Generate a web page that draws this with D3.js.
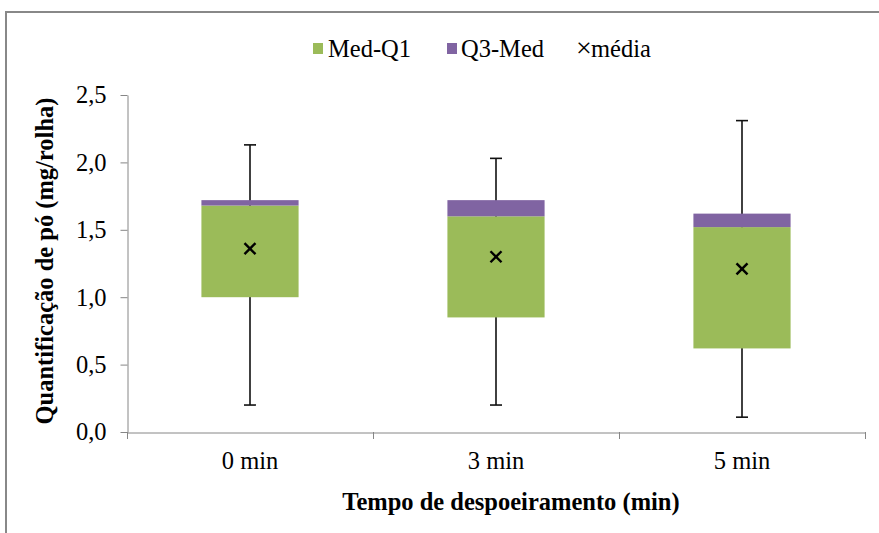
<!DOCTYPE html>
<html><head><meta charset="utf-8">
<script src="https://cdn.jsdelivr.net/npm/d3@7/dist/d3.min.js"></script>
<style>
html,body{margin:0;padding:0;background:#fff;}
svg{display:block;}
</style></head>
<body>
<script>
const categories = ["0 min", "3 min", "5 min"];
const minVals  = [0.20, 0.20, 0.11];
const q1Vals   = [1.00, 0.85, 0.62];
const medVals  = [1.68, 1.60, 1.52];
const q3Vals   = [1.72, 1.72, 1.62];
const maxVals  = [2.13, 2.03, 2.31];
const meanVals = [1.36, 1.30, 1.21];
const yTicks = [0, 0.5, 1.0, 1.5, 2.0, 2.5];
const legendLabels = ["Med-Q1", "Q3-Med", "média"];
const yTitle = "Quantificação de pó (mg/rolha)";
const xTitle = "Tempo de despoeiramento (min)";

const W = 879, H = 533;
const FONT = "'Liberation Serif', 'Times New Roman', serif";
const FS = "24.5px";
const green = "#9BBB59", purple = "#8064A2", axisCol = "#868686";
const svg = d3.select("body").append("svg").attr("width", W).attr("height", H)
  .style("font-family", FONT);

// outer border
svg.append("rect").attr("x", 6).attr("y", 12).attr("width", W + 20).attr("height", H + 20)
  .attr("fill", "none").attr("stroke", "#888").attr("stroke-width", 2);

const x = d3.scaleBand().domain(categories).range([127, 865]).padding(0);
const y = d3.scaleLinear().domain([0, 2.5]).range([432, 95]);
const bw = x.bandwidth() * 0.395;
const fmt = d => d3.format(".1f")(d).replace(".", ",");

// y axis
const ya = svg.append("g").attr("transform", "translate(127.5,0)")
  .call(d3.axisLeft(y).tickValues(yTicks).tickFormat(fmt).tickSize(7).tickSizeOuter(0).tickPadding(14));
ya.attr("font-family", null).attr("font-size", null);
ya.select(".domain").attr("stroke", axisCol);
ya.selectAll(".tick line").attr("stroke", axisCol);
ya.selectAll(".tick text").style("font-family", FONT).style("font-size", FS).attr("fill", "#000");

// x axis
const xa = svg.append("g").attr("transform", "translate(0,432.5)")
  .call(d3.axisBottom(x).tickSize(0).tickSizeOuter(0).tickPadding(19));
xa.attr("font-family", null).attr("font-size", null);
xa.select(".domain").attr("stroke", axisCol);
xa.selectAll(".tick text").style("font-family", FONT).style("font-size", FS).attr("fill", "#000");
const bounds = categories.map(c => x(c)).concat([x(categories[categories.length - 1]) + x.bandwidth()]);
svg.append("g").selectAll("line").data(bounds).join("line")
  .attr("x1", d => Math.round(d) + 0.5).attr("x2", d => Math.round(d) + 0.5)
  .attr("y1", 432).attr("y2", 439).attr("stroke", axisCol);

const idx = categories.map((c, i) => i);
const cx = i => x(categories[i]) + x.bandwidth() / 2;

// whiskers
const wg = svg.append("g").attr("stroke", "#111").attr("stroke-width", 1.6);
wg.selectAll(".vw").data(idx).join("line")
  .attr("x1", cx).attr("x2", cx).attr("y1", i => y(maxVals[i])).attr("y2", i => y(minVals[i]));
wg.selectAll(".cap1").data(idx).join("line")
  .attr("x1", i => cx(i) - 6).attr("x2", i => cx(i) + 6).attr("y1", i => y(maxVals[i])).attr("y2", i => y(maxVals[i]));
wg.selectAll(".cap2").data(idx).join("line")
  .attr("x1", i => cx(i) - 6).attr("x2", i => cx(i) + 6).attr("y1", i => y(minVals[i])).attr("y2", i => y(minVals[i]));

// boxes
svg.append("g").selectAll("rect").data(idx).join("rect")
  .attr("x", i => cx(i) - bw / 2).attr("width", bw)
  .attr("y", i => y(medVals[i])).attr("height", i => y(q1Vals[i]) - y(medVals[i]))
  .attr("fill", green);
svg.append("g").selectAll("rect").data(idx).join("rect")
  .attr("x", i => cx(i) - bw / 2).attr("width", bw)
  .attr("y", i => y(q3Vals[i])).attr("height", i => y(medVals[i]) - y(q3Vals[i]))
  .attr("fill", purple);

// mean markers
const ms = 5.5;
const mg = svg.append("g").attr("stroke", "#000").attr("stroke-width", 2.4);
idx.forEach(i => {
  const px = cx(i), py = y(meanVals[i]);
  mg.append("line").attr("x1", px - ms).attr("y1", py - ms).attr("x2", px + ms).attr("y2", py + ms);
  mg.append("line").attr("x1", px - ms).attr("y1", py + ms).attr("x2", px + ms).attr("y2", py - ms);
});

// legend
const lg = svg.append("g").style("font-family", FONT).style("font-size", FS);
lg.append("rect").attr("x", 313).attr("y", 43).attr("width", 10).attr("height", 11).attr("fill", green);
lg.append("text").attr("x", 328).attr("y", 57).text(legendLabels[0]);
lg.append("rect").attr("x", 447).attr("y", 43).attr("width", 10).attr("height", 11).attr("fill", purple);
lg.append("text").attr("x", 461).attr("y", 57).text(legendLabels[1]);
lg.append("text").attr("x", 576).attr("y", 57).style("font-size", "28px").text("×");
lg.append("text").attr("x", 591).attr("y", 57).text(legendLabels[2]);

// axis titles
svg.append("text").attr("transform", "translate(53,261) rotate(-90)")
  .attr("text-anchor", "middle").style("font-family", FONT).style("font-size", FS)
  .style("font-weight", "bold").text(yTitle);
svg.append("text").attr("x", 511).attr("y", 510)
  .attr("text-anchor", "middle").style("font-family", FONT).style("font-size", FS)
  .style("font-weight", "bold").text(xTitle);
</script>
</body></html>
